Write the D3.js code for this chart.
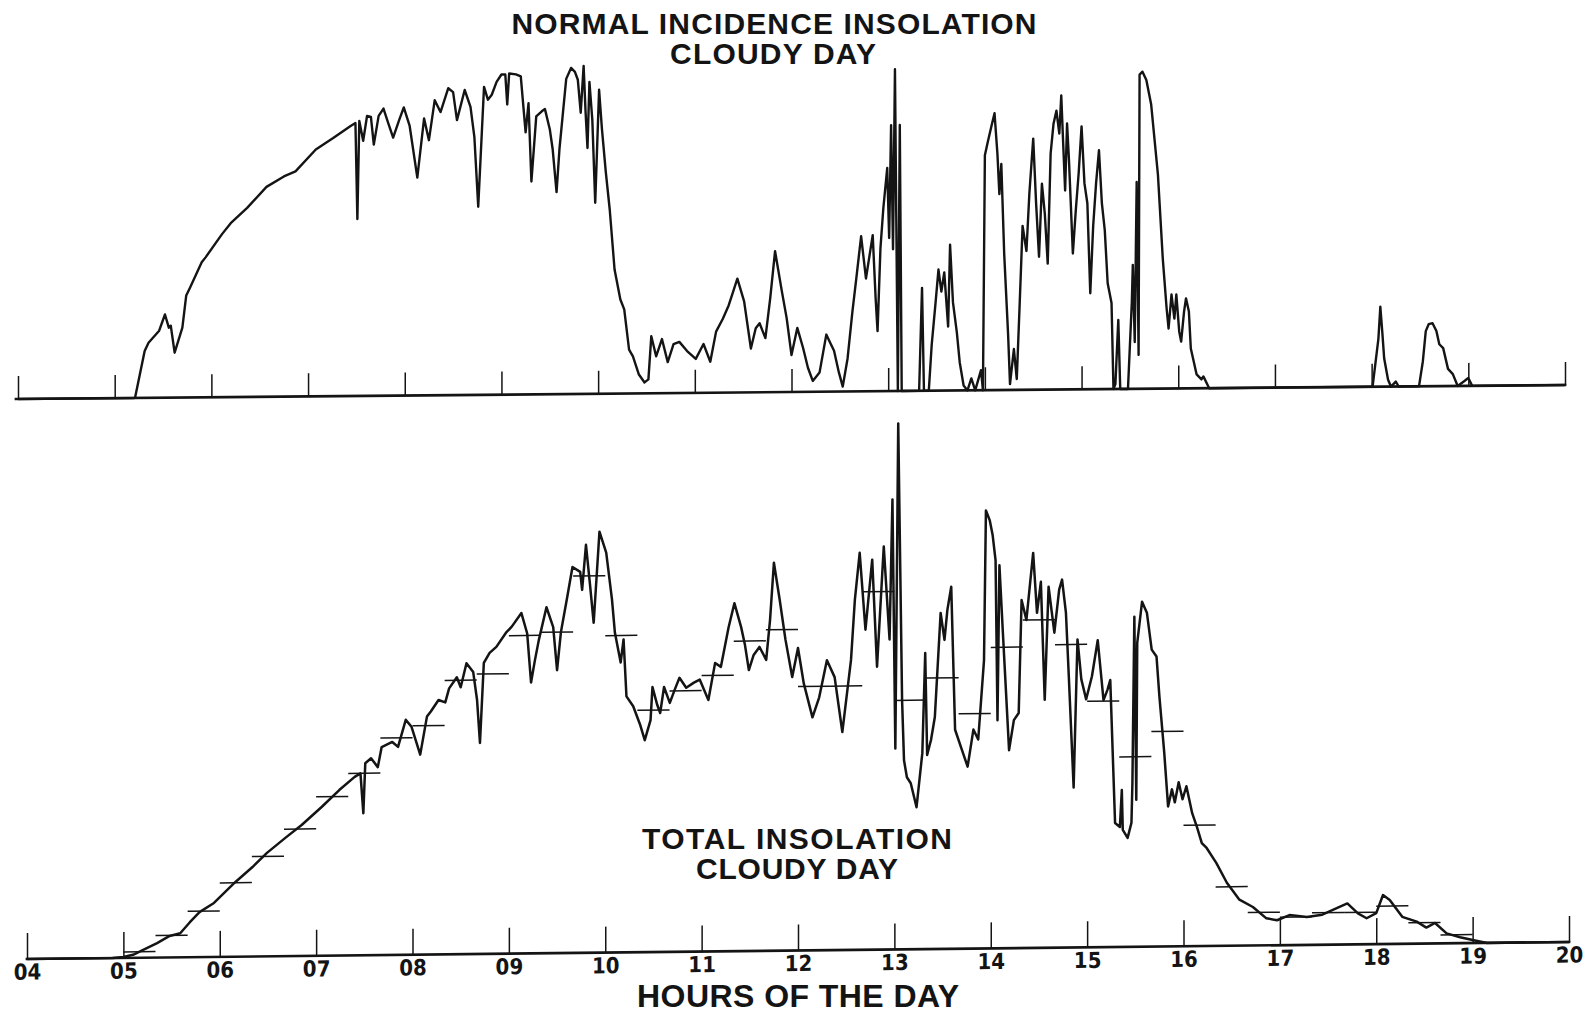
<!DOCTYPE html>
<html>
<head>
<meta charset="utf-8">
<script src="https://cdn.jsdelivr.net/npm/d3@7"></script>
<style>
  body { margin: 0; background: #fff; }
  svg { display: block; }
</style>
</head>
<body>
<svg id="chart" width="1589" height="1014"></svg>
<script>
// Hour ticks shared by both traces
const hours = d3.range(4, 21);
const hourLabels = hours.map(h => d3.format("02d")(h));

// Normal incidence insolation, [hour of day, W/m²]
const normalIncidence = [
  [4.00,0],[5.20,0],[5.21,0],[5.31,142],[5.35,167],[5.46,203],[5.52,252],[5.56,212],[5.58,218],[5.62,136],
  [5.70,212],[5.74,309],[5.78,333],[5.90,409],[5.94,424],[6.11,494],[6.20,527],[6.37,573],[6.57,636],[6.75,667],
  [6.87,682],[7.08,748],[7.26,782],[7.44,818],[7.49,827],[7.51,536],[7.53,833],[7.57,773],[7.61,848],[7.65,845],
  [7.68,761],[7.73,848],[7.78,870],[7.83,825],[7.88,782],[7.94,833],[7.99,873],[8.05,818],[8.13,660],[8.20,839],
  [8.25,773],[8.31,894],[8.37,858],[8.45,930],[8.50,918],[8.54,833],[8.62,924],[8.68,873],[8.72,782],[8.76,570],
  [8.82,933],[8.86,894],[8.90,909],[8.95,948],[9.00,970],[9.04,970],[9.06,879],[9.08,973],[9.15,970],[9.20,964],
  [9.25,794],[9.28,882],[9.31,645],[9.36,842],[9.42,858],[9.45,864],[9.50,803],[9.53,742],[9.57,612],[9.60,742],
  [9.64,864],[9.67,955],[9.72,988],[9.76,976],[9.79,952],[9.82,852],[9.85,994],[9.87,855],[9.89,745],[9.91,945],
  [9.94,830],[9.97,579],[10.01,921],[10.04,800],[10.08,670],[10.12,558],[10.17,376],[10.23,285],[10.27,255],[10.32,133],
  [10.36,112],[10.42,58],[10.48,33],[10.52,42],[10.55,173],[10.60,112],[10.66,164],[10.72,94],[10.78,148],[10.84,155],
  [10.92,127],[11.01,103],[11.09,148],[11.16,94],[11.22,185],[11.29,224],[11.35,264],[11.40,309],[11.44,345],[11.51,276],
  [11.58,133],[11.63,194],[11.67,209],[11.73,164],[11.78,285],[11.83,427],[11.90,306],[11.95,224],[12.00,112],[12.06,194],
  [12.12,133],[12.17,73],[12.22,33],[12.29,58],[12.36,173],[12.40,148],[12.44,124],[12.49,58],[12.53,15],[12.58,100],
  [12.63,242],[12.67,342],[12.72,470],[12.77,342],[12.84,473],[12.87,282],[12.89,182],[12.92,433],[12.95,555],[12.99,676],
  [13.01,464],[13.03,806],[13.05,430],[13.07,975],[13.10,0],[13.12,806],[13.14,0],[13.32,0],[13.35,312],[13.37,0],
  [13.42,0],[13.45,139],[13.49,267],[13.52,367],[13.55,300],[13.58,358],[13.62,194],[13.64,442],[13.67,267],[13.71,176],
  [13.74,85],[13.78,15],[13.82,0],[13.86,36],[13.90,0],[13.96,61],[13.98,0],[14.00,712],[14.03,752],[14.07,803],
  [14.10,839],[14.13,715],[14.15,594],[14.17,685],[14.20,412],[14.24,170],[14.26,18],[14.30,124],[14.33,33],[14.36,261],
  [14.39,497],[14.43,421],[14.46,594],[14.50,761],[14.53,564],[14.56,403],[14.59,624],[14.62,533],[14.65,382],[14.68,715],
  [14.71,806],[14.74,845],[14.77,776],[14.79,891],[14.81,745],[14.83,603],[14.85,806],[14.87,694],[14.91,412],[14.94,542],
  [14.97,655],[15.00,797],[15.03,624],[15.06,564],[15.09,291],[15.12,494],[15.15,624],[15.18,724],[15.21,564],[15.24,482],
  [15.27,321],[15.31,261],[15.33,0],[15.35,15],[15.38,209],[15.40,0],[15.48,0],[15.52,264],[15.53,376],[15.55,142],
  [15.57,627],[15.59,103],[15.60,952],[15.63,961],[15.67,936],[15.72,861],[15.79,648],[15.84,394],[15.88,242],[15.90,182],
  [15.93,285],[15.96,212],[15.98,285],[16.01,173],[16.03,142],[16.06,233],[16.08,273],[16.11,233],[16.13,121],[16.19,42],
  [16.24,27],[16.26,36],[16.32,0],[17.99,0],[18.01,0],[18.07,145],[18.09,242],[18.11,167],[18.13,85],[18.17,21],
  [18.20,0],[18.25,15],[18.28,0],[18.49,0],[18.53,76],[18.56,167],[18.59,188],[18.63,191],[18.67,167],[18.70,127],
  [18.74,115],[18.79,52],[18.84,36],[18.89,0],[18.96,15],[19.00,24],[19.04,0],[20.00,0]
];

// Total insolation, [hour of day, W/m²]
const totalInsolation = [
  [4.00,0],[4.89,0],[5.00,2],[5.10,6],[5.20,15],[5.35,29],[5.48,43],[5.59,48],[5.69,70],[5.79,90],
  [5.94,108],[6.16,149],[6.34,179],[6.49,207],[6.69,238],[6.85,262],[7.06,298],[7.24,331],[7.40,357],[7.46,364],
  [7.49,284],[7.51,384],[7.57,394],[7.64,376],[7.68,416],[7.79,426],[7.85,416],[7.93,470],[7.99,456],[8.08,400],
  [8.15,476],[8.19,486],[8.27,509],[8.34,504],[8.38,532],[8.46,554],[8.50,534],[8.56,582],[8.63,564],[8.67,508],
  [8.70,422],[8.74,582],[8.80,602],[8.87,614],[8.97,642],[9.03,654],[9.13,681],[9.19,640],[9.23,542],[9.27,586],
  [9.31,626],[9.39,692],[9.46,652],[9.50,566],[9.54,642],[9.60,706],[9.66,772],[9.74,762],[9.76,726],[9.80,816],
  [9.84,740],[9.88,660],[9.94,842],[10.01,800],[10.07,706],[10.10,640],[10.16,580],[10.19,626],[10.22,512],[10.29,492],
  [10.36,456],[10.41,424],[10.47,464],[10.49,530],[10.54,494],[10.57,478],[10.61,530],[10.67,498],[10.72,524],[10.77,548],
  [10.84,528],[10.92,538],[10.98,544],[11.07,503],[11.14,577],[11.20,569],[11.28,648],[11.34,696],[11.41,648],[11.45,612],
  [11.49,562],[11.54,592],[11.60,608],[11.67,582],[11.71,662],[11.75,776],[11.81,702],[11.87,622],[11.94,547],[12.00,605],
  [12.06,534],[12.15,466],[12.22,506],[12.30,580],[12.38,546],[12.46,436],[12.55,580],[12.59,700],[12.64,794],[12.70,640],
  [12.77,780],[12.82,566],[12.89,806],[12.95,620],[12.98,900],[13.01,402],[13.04,1052],[13.08,498],[13.10,378],[13.13,344],
  [13.17,332],[13.23,284],[13.29,392],[13.32,592],[13.34,388],[13.38,418],[13.42,464],[13.48,672],[13.52,618],[13.55,678],
  [13.59,724],[13.63,438],[13.70,398],[13.76,364],[13.82,438],[13.87,418],[13.93,576],[13.95,876],[13.99,856],[14.02,826],
  [14.05,776],[14.07,456],[14.09,766],[14.13,616],[14.19,396],[14.24,456],[14.29,470],[14.32,696],[14.37,656],[14.44,790],
  [14.48,670],[14.52,732],[14.56,496],[14.60,722],[14.66,630],[14.71,716],[14.74,736],[14.78,670],[14.81,542],[14.86,320],
  [14.90,616],[14.94,536],[14.99,496],[15.05,542],[15.11,614],[15.17,494],[15.21,514],[15.24,534],[15.29,248],[15.34,240],
  [15.36,314],[15.37,234],[15.42,218],[15.46,248],[15.47,328],[15.49,660],[15.51,294],[15.52,608],[15.57,690],[15.62,668],
  [15.67,594],[15.72,580],[15.75,500],[15.80,388],[15.84,280],[15.88,314],[15.91,288],[15.95,328],[15.99,294],[16.03,320],
  [16.09,266],[16.14,238],[16.19,206],[16.24,196],[16.34,166],[16.45,126],[16.58,92],[16.72,77],[16.86,54],[16.97,50],
  [17.10,60],[17.28,56],[17.44,60],[17.59,73],[17.70,82],[17.81,62],[17.90,52],[18.00,62],[18.07,98],[18.14,88],
  [18.27,54],[18.42,44],[18.52,32],[18.61,41],[18.73,20],[18.87,12],[19.00,6],[19.15,0],[20.00,0]
];

// 20-minute means of the total insolation, first interval starting at 05:00
const averageStartHour = 5;
const averageStepHours = 1 / 3;
const totalAverages = [
  12, 44, 92, 148, 200, 254, 318, 364, 434, 458, 548, 560, 636, 642, 754,
  634, 484, 522, 552, 620, 642, 528, 528, 716, 498, 542, 470, 602, 656, 606,
  492, 380, 430, 242, 118, 66, 56, 64, 64, 76, 42, 17
];

const topTitle = ["NORMAL INCIDENCE INSOLATION", "CLOUDY DAY"];
const bottomTitle = ["TOTAL INSOLATION", "CLOUDY DAY"];
const axisTitle = "HOURS OF THE DAY";

const ink = "#141414";
const svg = d3.select("#chart");

// Each trace sits on its own slightly sloping baseline; the slope is a
// vertical shear so that spikes and ticks stay vertical.
function makePanel(p) {
  const width = p.x1 - p.x0;
  const slope = (p.y1 - p.y0) / width;
  const g = svg.append("g").attr("transform", `matrix(1,${slope},0,1,${p.x0},${p.y0})`);
  const x = d3.scaleLinear().domain([4, 20]).range([p.inset, width]);
  const y = d3.scaleLinear().domain([0, 1000]).range([0, -p.fullHeight]);
  g.append("line")
    .attr("x1", 0).attr("x2", width)
    .attr("stroke", ink).attr("stroke-width", 2.7).attr("stroke-linecap", "square");
  return { g, x, y };
}

function styleAxis(a) {
  a.select(".domain").remove();
  a.selectAll(".tick line").attr("stroke", ink).attr("stroke-width", 1.5);
}

const traceLine = (x, y) => d3.line().x(d => x(d[0])).y(d => y(d[1]));

// ---- Normal incidence trace ----
const normalPanel = makePanel({ x0: 16, y0: 399, x1: 1565, y1: 385, inset: 2, fullHeight: 330 });
normalPanel.g.append("g")
  .call(d3.axisBottom(normalPanel.x).tickValues(hours).tickSizeInner(-23).tickSizeOuter(0).tickFormat(""))
  .call(styleAxis);
normalPanel.g.append("path")
  .datum(normalIncidence)
  .attr("d", traceLine(normalPanel.x, normalPanel.y))
  .attr("fill", "none")
  .attr("stroke", ink)
  .attr("stroke-width", 2.4)
  .attr("stroke-linejoin", "round");

// ---- Total insolation trace ----
const totalPanel = makePanel({ x0: 27, y0: 959, x1: 1569, y1: 942, inset: 0, fullHeight: 500 });
totalPanel.g.append("g")
  .call(d3.axisBottom(totalPanel.x).tickValues(hours).tickSizeInner(-26).tickSizeOuter(0)
    .tickPadding(5).tickFormat((d, i) => hourLabels[i]))
  .call(a => {
    styleAxis(a);
    a.selectAll(".tick text")
      .attr("fill", ink)
      .style("font-family", "'Liberation Sans Narrow','DejaVu Sans Condensed','Liberation Sans',sans-serif")
      .style("font-weight", "700")
      .style("font-size", "22px");
  });

totalPanel.g.selectAll("line.avg")
  .data(totalAverages)
  .join("line")
  .attr("class", "avg")
  .attr("x1", (d, i) => totalPanel.x(averageStartHour + i * averageStepHours))
  .attr("x2", (d, i) => totalPanel.x(averageStartHour + (i + 1) * averageStepHours))
  .attr("y1", d => totalPanel.y(d))
  .attr("y2", d => totalPanel.y(d))
  .attr("stroke", ink)
  .attr("stroke-width", 1.5);

totalPanel.g.append("path")
  .datum(totalInsolation)
  .attr("d", traceLine(totalPanel.x, totalPanel.y))
  .attr("fill", "none")
  .attr("stroke", ink)
  .attr("stroke-width", 2.5)
  .attr("stroke-linejoin", "round");

// ---- Titles ----
function title(text, cx, baseline, width, size) {
  svg.append("text")
    .attr("x", cx - width / 2)
    .attr("y", baseline)
    .attr("textLength", width)
    .attr("lengthAdjust", "spacing")
    .attr("fill", ink)
    .style("font-family", "'Liberation Sans',Arial,sans-serif")
    .style("font-weight", "700")
    .style("font-size", size + "px")
    .text(text);
}
title(topTitle[0], 774, 34, 525, 30);
title(topTitle[1], 773, 64, 206, 30);
title(bottomTitle[0], 797, 849, 310, 30);
title(bottomTitle[1], 797, 879, 202, 30);
title(axisTitle, 798, 1007, 322, 32);
</script>
</body>
</html>
